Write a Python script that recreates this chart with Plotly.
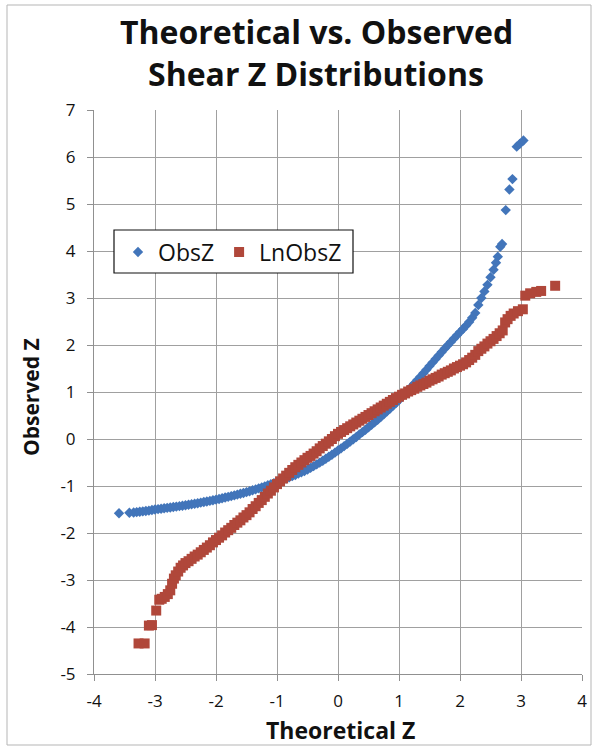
import plotly.graph_objects as go

# ObsZ (blue diamonds): theoretical z vs observed z
obs_x = [-3.59, -3.42, -3.35,
         -3.30, -3.25, -3.20, -3.15, -3.10, -3.05, -3.00, -2.95, -2.90, -2.85,
         -2.80, -2.75, -2.70, -2.65, -2.60, -2.55, -2.50, -2.45, -2.40, -2.35,
         -2.30, -2.25, -2.20, -2.15, -2.10, -2.05, -2.00, -1.95, -1.90, -1.85,
         -1.80, -1.75, -1.70, -1.65, -1.60, -1.55, -1.50, -1.45, -1.40, -1.35,
         -1.30, -1.25, -1.20, -1.15, -1.10, -1.05, -1.00, -0.95, -0.90, -0.85,
         -0.80, -0.75, -0.70, -0.65, -0.60, -0.55, -0.50, -0.45, -0.40, -0.35,
         -0.30, -0.25, -0.20, -0.15, -0.10, -0.05, 0.00, 0.05, 0.10, 0.15,
         0.20, 0.25, 0.30, 0.35, 0.40, 0.45, 0.50, 0.55, 0.60, 0.65,
         0.70, 0.75, 0.80, 0.85, 0.90, 0.95, 1.00, 1.05, 1.10, 1.15,
         1.20, 1.25, 1.30, 1.35, 1.40, 1.45, 1.50, 1.55, 1.60, 1.65,
         1.70, 1.75, 1.80, 1.85, 1.90, 1.95, 2.00, 2.05, 2.10, 2.15,
         2.20, 2.25, 2.30, 2.35, 2.40, 2.45, 2.50, 2.55, 2.59, 2.62,
         2.66, 2.69, 2.75, 2.81, 2.86, 2.93, 2.98, 3.04]
obs_y = [-1.58, -1.57, -1.565,
         -1.555, -1.548, -1.540, -1.532, -1.524, -1.512, -1.500, -1.492, -1.483, -1.474,
         -1.465, -1.456, -1.447, -1.438, -1.429, -1.420, -1.410, -1.399, -1.388, -1.377,
         -1.366, -1.354, -1.342, -1.330, -1.317, -1.304, -1.290, -1.276, -1.261, -1.246,
         -1.231, -1.215, -1.199, -1.183, -1.166, -1.148, -1.130, -1.111, -1.091, -1.071,
         -1.050, -1.029, -1.007, -0.985, -0.962, -0.938, -0.914, -0.890, -0.865, -0.840,
         -0.815, -0.790, -0.765, -0.735, -0.710, -0.680, -0.650, -0.615, -0.578, -0.540,
         -0.502, -0.462, -0.421, -0.379, -0.335, -0.290, -0.245, -0.199, -0.152, -0.104,
         -0.055, -0.006, 0.044, 0.095, 0.146, 0.197, 0.249, 0.302, 0.356, 0.411,
         0.467, 0.524, 0.583, 0.643, 0.704, 0.767, 0.830, 0.898, 0.967, 1.037,
         1.108, 1.180, 1.253, 1.327, 1.401, 1.476, 1.551, 1.626, 1.701, 1.776,
         1.850, 1.923, 1.995, 2.066, 2.136, 2.205, 2.274, 2.343, 2.413, 2.490,
         2.580, 2.680, 2.850, 3.000, 3.140, 3.280, 3.440, 3.600, 3.750, 3.880,
         4.090, 4.150, 4.870, 5.310, 5.530, 6.220, 6.280, 6.350]

# LnObsZ (red squares)
ln_x = [-3.27, -3.17, -3.10, -3.05, -2.98, -2.93, -2.89, -2.84, -2.79, -2.75,
        -2.72, -2.69, -2.66, -2.62, -2.58, -2.54,
        -2.50, -2.45, -2.40, -2.35, -2.30, -2.25, -2.20, -2.15, -2.10, -2.05,
        -2.00, -1.95, -1.90, -1.85, -1.80, -1.75, -1.70, -1.65, -1.60, -1.55,
        -1.50, -1.45, -1.40, -1.35, -1.30, -1.25, -1.20, -1.15, -1.10, -1.05,
        -1.00, -0.95, -0.90, -0.85, -0.80, -0.75, -0.70, -0.65, -0.60, -0.55,
        -0.50, -0.45, -0.40, -0.35, -0.30, -0.25, -0.20, -0.15, -0.10, -0.05,
        0.00, 0.05, 0.10, 0.15, 0.20, 0.25, 0.30, 0.35, 0.40, 0.45,
        0.50, 0.55, 0.60, 0.65, 0.70, 0.75, 0.80, 0.85, 0.90, 0.95,
        1.00, 1.05, 1.10, 1.15, 1.20, 1.25, 1.30, 1.35, 1.40, 1.45,
        1.50, 1.55, 1.60, 1.65, 1.70, 1.75, 1.80, 1.85, 1.90, 1.95,
        2.00, 2.05, 2.10, 2.15, 2.20, 2.25, 2.30, 2.35, 2.40, 2.45,
        2.50, 2.55, 2.60, 2.65, 2.70,
        2.74, 2.78, 2.83, 2.88, 2.95, 3.03, 3.07, 3.15, 3.25, 3.33, 3.56]
ln_y = [-4.35, -4.35, -3.97, -3.96, -3.65, -3.42, -3.40, -3.36, -3.30, -3.22,
        -3.08, -2.97, -2.90, -2.82, -2.74, -2.69,
        -2.64, -2.60, -2.55, -2.50, -2.46, -2.41, -2.36, -2.31, -2.26, -2.20,
        -2.15, -2.10, -2.05, -1.99, -1.94, -1.89, -1.83, -1.78, -1.73, -1.67,
        -1.62, -1.56, -1.49, -1.43, -1.36, -1.30, -1.23, -1.16, -1.10, -1.03,
        -0.96, -0.90, -0.84, -0.78, -0.72, -0.66, -0.60, -0.55, -0.50, -0.45,
        -0.40, -0.36, -0.31, -0.26, -0.20, -0.15, -0.10, -0.05, 0.00, 0.06,
        0.11, 0.15, 0.19, 0.23, 0.27, 0.31, 0.35, 0.39, 0.43, 0.47,
        0.51, 0.55, 0.59, 0.63, 0.67, 0.71, 0.75, 0.79, 0.83, 0.87,
        0.90, 0.94, 0.97, 1.01, 1.04, 1.07, 1.11, 1.14, 1.17, 1.20,
        1.24, 1.27, 1.30, 1.33, 1.37, 1.40, 1.43, 1.46, 1.50, 1.53,
        1.56, 1.59, 1.63, 1.68, 1.73, 1.79, 1.87, 1.92, 1.97, 2.03,
        2.08, 2.13, 2.19, 2.25, 2.31,
        2.48, 2.55, 2.62, 2.67, 2.72, 2.76, 3.05, 3.10, 3.13, 3.15, 3.26]

x_ticks = [-4, -3, -2, -1, 0, 1, 2, 3, 4]
y_ticks = [-5, -4, -3, -2, -1, 0, 1, 2, 3, 4, 5, 6, 7]

BLUE = "#4275BA"
RED = "#B0473A"
FONT = "'Open Sans', sans-serif"
TXT = "#111111"

# plot area in pixels
L, R, T, B = 94, 582, 110, 674
W, H = R - L, B - T


def px(xp):
    return (xp - L) / W


def py(yp):
    return (B - yp) / H


fig = go.Figure()
fig.add_trace(go.Scatter(x=obs_x, y=obs_y, mode="markers", name="ObsZ",
                         marker=dict(symbol="diamond", size=8, color=BLUE)))
fig.add_trace(go.Scatter(x=ln_x, y=ln_y, mode="markers", name="LnObsZ",
                         marker=dict(symbol="square", size=10, color=RED)))

axis_common = dict(showgrid=True, gridcolor="#a0a0a0", gridwidth=1,
                   showline=True, linecolor="#909090", linewidth=1,
                   ticks="outside", ticklen=6, tickcolor="#909090",
                   zeroline=False, automargin=False,
                   tickfont=dict(family=FONT, size=17, color=TXT))

fig.update_layout(
    width=598, height=747,
    paper_bgcolor="white", plot_bgcolor="white",
    margin=dict(l=L, r=598 - R, t=T, b=747 - B),
    xaxis=dict(range=[-4, 4], tickvals=x_ticks,
               ticktext=[str(v) for v in x_ticks], ticklabelstandoff=6,
               **axis_common),
    yaxis=dict(range=[-5, 7], tickvals=y_ticks,
               ticktext=[str(v) for v in y_ticks], ticklabelstandoff=8,
               **axis_common),
    legend=dict(orientation="h", x=px(118), y=py(252), xanchor="left", yanchor="middle",
                bgcolor="rgba(0,0,0,0)", borderwidth=0,
                font=dict(family=FONT, size=23, color=TXT)),
    showlegend=True,
)

# titles
fig.add_annotation(text="<b>Theoretical vs. Observed</b>", xref="paper", yref="paper",
                   x=px(316), y=py(32), showarrow=False, xanchor="center", yanchor="middle",
                   font=dict(family=FONT, size=32, color=TXT))
fig.add_annotation(text="<b>Shear Z Distributions</b>", xref="paper", yref="paper",
                   x=px(316), y=py(73), showarrow=False, xanchor="center", yanchor="middle",
                   font=dict(family=FONT, size=32, color=TXT))
fig.add_annotation(text="<b>Theoretical Z</b>", xref="paper", yref="paper",
                   x=px(340), y=py(730), showarrow=False, xanchor="center", yanchor="middle",
                   font=dict(family=FONT, size=23, color=TXT))
fig.add_annotation(text="<b>Observed Z</b>", xref="paper", yref="paper",
                   x=px(31), y=py(397), showarrow=False, xanchor="center", yanchor="middle",
                   textangle=-90, font=dict(family=FONT, size=21, color=TXT))

# legend box
fig.add_shape(type="rect", xref="paper", yref="paper",
              x0=px(114), x1=px(353), y0=py(273), y1=py(230),
              line=dict(color="#111111", width=1.2), fillcolor="white", layer="above")

# outer chart-area border
fig.add_shape(type="rect", xref="paper", yref="paper",
              x0=px(7), x1=px(591), y0=py(745), y1=py(5),
              line=dict(color="#b5b5b5", width=1), layer="below")

fig.write_html("out.html", config={"displayModeBar": False},
               post_script="document.body.style.margin='0px';")
